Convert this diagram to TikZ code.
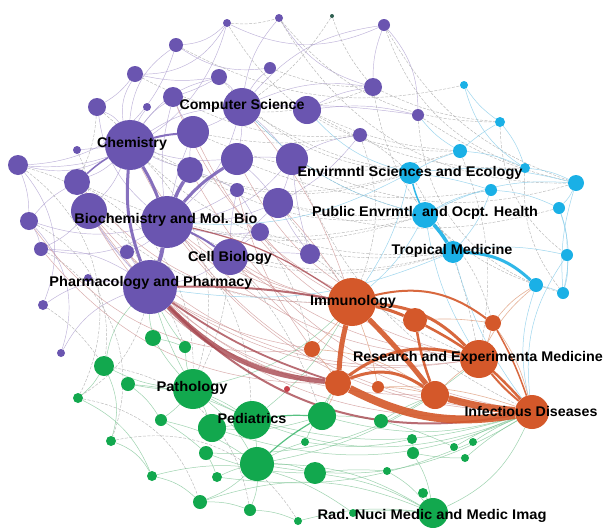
\documentclass[tikz,border=0pt]{standalone}
\usepackage{fontspec}
\usepackage{graphicx}
\setmainfont{Liberation Sans}
\pgfdeclarelayer{edges}
\pgfsetlayers{edges,main}
\definecolor{cpur}{HTML}{6A55B0}
\definecolor{cora}{HTML}{D4582A}
\definecolor{cgrn}{HTML}{12A84E}
\definecolor{ccya}{HTML}{1AB0E6}
\definecolor{cred}{HTML}{C8404A}
\definecolor{cdark}{HTML}{2F5F50}
\definecolor{cbrown}{HTML}{A84850}
\definecolor{cpurE}{HTML}{7A62B8}
\definecolor{lpur}{HTML}{A898CC}
\definecolor{lgray}{HTML}{A0A0A0}
\definecolor{lpink}{HTML}{D09898}
\definecolor{lgrn}{HTML}{7CC494}
\definecolor{lcya}{HTML}{86CCEA}
\definecolor{lora}{HTML}{E0A080}
\newlength\lblw
\newcommand\lblfont{\bfseries\fontsize{14}{16}\selectfont}
\newcommand\fitlbl[2]{\settowidth{\lblw}{\lblfont #2}\pgfmathsetmacro\lblf{#1/\lblw}\scalebox{\lblf}[1]{\lblfont #2}}
\begin{document}
\begin{tikzpicture}[x=1pt,y=-1pt,
  dot/.style={circle,inner sep=0pt,draw=none},
  lbl/.style={inner sep=0pt,text=black},
  ep/.style={draw=lpur,line width=0.45pt,opacity=0.75},
  eg/.style={draw=lgray,line width=0.45pt,opacity=0.75,dash pattern=on 3pt off 1.5pt},
  er/.style={draw=lpink,line width=0.5pt,opacity=0.8},
  egr/.style={draw=lgrn,line width=0.5pt,opacity=0.75},
  ec/.style={draw=lcya,line width=0.5pt,opacity=0.8},
  eo/.style={draw=lora,line width=0.6pt,opacity=0.8},
  tko/.style={draw=cora,opacity=0.9},
  tkb/.style={draw=cbrown,opacity=0.8},
  tkp/.style={draw=cpurE,opacity=0.9},
  tkc/.style={draw=ccya,opacity=0.9}]
\useasboundingbox (0,0) rectangle (606,528);
% purple nodes
\foreach \n/\x/\y/\r in {p1/227/23/4,p2/279/18/4,p3/176/45/7,p4/135/74/8,p5/270/68/6,p6/219/77/8,
  p7/97/107/9,p8/147/107/4,p9/173/97/10,cs/242/107/19,p10/307/110/14,p11/384/25/6,p12/373/87/9,
  p13/418/115/6,p14/360/135/7,chem/130/145/25,p15/193/132/16,p16/77/150/4,p17/18/165/10,
  p18/77/182/13,p19/190/170/13,p20/237/159/16,p21/292/159/16,p22/237/190/7,p23/89/211/18,
  bio/167/222/26,p24/278/203/15,p25/29/221/9,p26/260/232/9,p27/41/249/7,p28/127/252/7,
  cell/230/257/18,p29/310/254/10,pharm/150/287/27,p30/88/278/4,p31/43/305/5,p32/61/353/4}
  \node[dot,fill=cpur,minimum size={2*\r*1pt}] (\n) at (\x,\y) {};
\node[dot,fill=cdark,minimum size=4pt] (t1) at (332,16) {};
% cyan nodes
\foreach \n/\x/\y/\r in {c1/464/85/4,c2/500/122/5,c3/460/151/7,env/410/173/11,c4/525/168/5,
  c5/576/183/8,c6/491/190/6,c7/559/208/6,pub/425/215/13,trop/453/252/11,c8/567/255/6,
  c9/536/285/7,c10/563/293/6}
  \node[dot,fill=ccya,minimum size={2*\r*1pt}] (\n) at (\x,\y) {};
% orange nodes
\foreach \n/\x/\y/\r in {imm/352/302/24,o1/415/320/12,o2/493/323/8,o3/312/349/8,res/479/359/19,
  o4/338/383/13,o5/378/387/6,o6/435/395/14,inf/532/412/17}
  \node[dot,fill=cora,minimum size={2*\r*1pt}] (\n) at (\x,\y) {};
\node[dot,fill=cred,minimum size=6pt] (r1) at (287,389) {};
% green nodes
\foreach \n/\x/\y/\r in {g1/153/338/8,g2/185/347/6,g3/104/366/10,g4/128/384/7,g5/78/398/5,
  path/193/389/20,g6/161/420/6,g7/212/428/14,ped/252/420/19,g8/111/441/5,g9/206/453/7,
  g10/305/442/4,g11/257/464/17,g12/152/476/5,g13/217/477/5,g14/200/502/7,g15/250/510/6,
  g16/298/521/4,g17/322/416/14,g18/381/421/7,g19/412/439/5,g20/413/453/6,g21/454/447/4,
  g22/473/442/4,g23/465/458/4,g24/387/471/4,g25/315/473/11,g26/423/493/5,rad/433/513/15,
  g27/353/513/4}
  \node[dot,fill=cgrn,minimum size={2*\r*1pt}] (\n) at (\x,\y) {};
\begin{pgfonlayer}{edges}
\fill[white] (0,0) rectangle (606,528);
% thin purple edges
\foreach \a/\b/\k in {chem/p4/20,chem/p7/-15,chem/p3/25,chem/p9/10,chem/p16/0,chem/p17/20,
  chem/p18/10,chem/p23/10,chem/cs/15,chem/p6/20,chem/p8/5,bio/p7/20,bio/p23/5,bio/p25/15,
  bio/p27/20,bio/p28/10,bio/cs/-15,bio/p15/5,bio/p21/-20,bio/p24/-10,bio/p26/-10,bio/p22/-5,
  bio/p9/10,cs/p5/10,cs/p6/-10,cs/p10/5,cs/p15/5,cs/p20/5,cs/p21/5,cs/p12/15,cs/p11/20,
  cs/p2/15,p3/p1/-20,p3/p5/-20,p4/p1/-30,p17/p3/-35,p17/p1/-40,p17/p25/10,p25/p27/10,
  p27/pharm/15,p31/pharm/20,p32/pharm/20,p30/pharm/0,pharm/p23/5,pharm/p18/10,pharm/cell/-10,
  pharm/p28/0,cell/p24/5,cell/p26/5,cell/p22/5,p21/p24/5,p21/p14/10,p10/p12/10,p10/p13/10,
  p14/p24/10,p12/p11/10,p2/p12/-20,p1/p11/-25,p11/p13/20,cs/p13/5,p20/p21/5,p19/p15/5,
  p15/p9/5,p7/p4/-10,p18/p25/-10,p23/p27/10,p17/p31/30,p25/p32/30,p4/p6/-10,p9/p6/-5,
  p20/p24/5,p22/p26/5,p29/cell/-5,p29/p24/5,p29/p21/5,p19/p22/5,chem/p19/-5,chem/p20/-10}
  \draw[ep] (\a) to[bend left=\k] (\b);
% thin gray dashed edges
\foreach \a/\b/\k in {p3/c1/-20,p4/p12/-25,p7/env/-30,chem/env/-20,cs/env/-10,cs/pub/-15,
  bio/pub/-15,bio/trop/-20,cell/trop/-15,p10/c3/-10,p12/c2/-10,p13/c5/-10,p14/env/5,
  p11/c4/-25,p1/c3/-30,p2/c2/-25,p18/pub/-20,chem/trop/-25,p23/imm/-20,p24/res/-15,
  p21/inf/-20,p29/imm/10,p17/pharm/25,p17/g5/40,p25/g3/35,p2/c5/-30,p11/c5/-20,t1/p12/-10,
  t1/cs/10,p1/p2/-10,p5/p12/-10,p6/env/-20,p9/p14/-15,p15/c3/-20,p20/c6/-15,p22/pub/-10,
  p26/trop/-10,p24/c7/-15,p21/c5/-20,p10/c4/-15,pub/o2/15,env/res/10,c3/res/15,p14/imm/20,
  c2/c8/-25,c4/c10/-20,p13/c10/-35,p12/c9/-30,pharm/g5/20,p31/g3/10,p27/g8/40,
  p18/path/30,chem/path/30,bio/ped/20,cell/g17/10,p26/o3/10,g5/g14/30,g3/g15/35,g8/g16/35,
  p16/p23/10,p7/p18/10,p28/g2/10,cell/path/10,p19/pub/-18,p15/p14/-10}
  \draw[eg] (\a) to[bend left=\k] (\b);
% thin pink edges
\foreach \a/\b/\k in {bio/imm/-15,bio/res/-20,bio/inf/-25,chem/inf/-30,chem/imm/-25,
  cell/imm/-10,cell/res/-15,cell/inf/-20,p23/inf/-30,p23/o4/-25,p24/imm/5,pharm/res/-20,
  pharm/o6/-20,p26/imm/-10,p28/o4/-20,p18/imm/-25,p25/o3/-30,p19/inf/-25,p20/o1/-20,
  p15/res/-25,p22/o3/-10,pharm/o3/-10,p27/o4/-25,cs/imm/10,p9/o1/-25,p23/res/-28}
  \draw[er] (\a) to[bend left=\k] (\b);
% thin green edges
\foreach \a/\b/\k in {path/ped/5,path/g7/5,path/g1/5,path/g2/5,path/g3/10,path/g4/5,path/g6/5,
  path/g11/10,ped/g11/5,ped/g7/5,g11/g25/10,g11/g15/10,g11/g14/10,g11/g10/5,g11/rad/15,
  g17/g18/5,g17/inf/-15,g11/inf/-20,ped/inf/-15,path/inf/-25,g3/g5/10,g3/g8/20,g8/g12/20,
  g12/g14/15,g14/g15/10,g15/g16/10,g16/rad/10,g27/rad/5,g26/rad/5,g24/rad/10,g19/g20/5,
  g20/rad/10,g21/inf/5,g22/inf/5,g23/inf/5,g18/o6/5,g25/rad/10,g4/ped/10,g1/pharm/5,
  g2/pharm/5,g3/pharm/15,path/pharm/5,g5/g12/20,g6/g9/5,g9/g13/5,g13/g11/5,g6/g11/10,
  rad/inf/-20,g11/o6/-10,ped/imm/-10,path/imm/-15,g17/o4/5,g10/o4/5,g7/g17/-10,g9/g25/-10,
  g14/rad/20,g12/g27/25,g4/g6/10,g1/g2/5,g18/g21/5,g20/g23/-5,g25/g24/5,g10/g19/-10,
  g7/inf/-20,g9/res/-20,g13/g22/-15}
  \draw[egr] (\a) to[bend left=\k] (\b);
% thin cyan edges
\foreach \a/\b/\k in {env/c3/5,env/c6/5,env/c5/10,c3/c2/5,c2/c1/10,c2/c4/10,c4/c5/10,
  c5/c7/10,c7/c8/10,c8/c10/10,c6/c7/10,pub/c6/10,pub/c5/15,trop/c8/10,c9/c10/5,c5/c10/-10,
  c1/c4/-20,trop/inf/-10,pub/res/-10,env/imm/10,c9/inf/-15,c8/inf/-20,pub/cs/15,env/p10/15,
  c3/p13/10,env/bio/15,trop/pharm/15,c6/trop/10,c3/c4/10,pub/imm/10,c7/c10/15}
  \draw[ec] (\a) to[bend left=\k] (\b);
% thin orange edges
\foreach \a/\b/\k in {imm/o3/5,o3/o4/5,imm/o5/5,o5/o6/5,o2/res/5,o2/inf/10,o1/res/5,
  o6/res/5,res/c9/10,o2/c9/10,o4/g17/5,o3/o6/15,o5/inf/10,o1/o2/5}
  \draw[eo] (\a) to[bend left=\k] (\b);
% thick edges
\draw[tkp,line width=3pt] (chem) to[bend left=5] (bio);
\draw[tkp,line width=3pt] (chem) to[bend right=12] (pharm);
\draw[tkp,line width=4pt] (bio) to[bend left=5] (pharm);
\draw[tkp,line width=3.5pt] (bio) to[bend left=5] (p19);
\draw[tkp,line width=3pt] (bio) to[bend left=8] (p20);
\draw[tkp,line width=2pt] (chem) to[bend left=5] (p15);
\draw[tkp,line width=2pt] (bio) to[bend left=5] (cell);
\draw[tkp,line width=1.5pt] (chem) to[bend right=5] (p18);
\draw[tkb,line width=5pt] (pharm) to[bend right=20] (o4);
\draw[tkb,line width=1.8pt] (pharm) to[bend right=8] (o4);
\draw[tkb,line width=2pt] (pharm) to[bend right=28] (inf);
\draw[tkb,line width=2pt] (pharm) to[bend left=5] (imm);
\draw[tkb,line width=1.2pt] (bio) to[bend left=10] (imm);
\draw[tko,line width=5pt] (imm) to[bend right=5] (o4);
\draw[tko,line width=5pt] (imm) to[bend left=3] (o6);
\draw[tko,line width=8pt] (o4) to[bend right=18] (inf);
\draw[tko,line width=7pt] (o6) to[bend right=5] (inf);
\draw[tko,line width=3pt] (o4) to[bend left=28] (o6);
\draw[tko,line width=3pt] (o4) to[bend left=25] (res);
\draw[tko,line width=3pt] (imm) to[bend left=20] (res);
\draw[tko,line width=3pt] (imm) to[bend left=5] (o1);
\draw[tko,line width=2.5pt] (o1) to[bend left=10] (inf);
\draw[tko,line width=2.5pt] (o1) to[bend right=5] (o6);
\draw[tko,line width=2pt] (res) to[bend right=5] (inf);
\draw[tko,line width=2pt] (imm) to[bend left=25] (o2);
\draw[tko,line width=1.5pt] (o2) to[bend left=5] (inf);
\draw[tkc,line width=3.5pt] (pub) to[bend left=5] (trop);
\draw[tkc,line width=3pt] (trop) to[bend left=20] (c9);
\draw[tkc,line width=1.5pt] (env) to[bend right=5] (pub);
\draw[draw=cgrn,line width=1.2pt,opacity=0.7] (ped) to[bend left=5] (g17);
\draw[draw=cgrn,line width=1.2pt,opacity=0.7] (g11) to[bend left=5] (g17);
\end{pgfonlayer}
% labels
\node[lbl] (lcs) at (242,106) {\fitlbl{125}{Computer Science}};
\node[lbl] (lchem) at (132,144) {\fitlbl{70}{Chemistry}};
\node[lbl] (lbio) at (166,220) {\fitlbl{183}{Biochemistry and Mol. Bio}};
\node[lbl] (lcell) at (230,258) {\fitlbl{84}{Cell Biology}};
\node[lbl] (lpharm) at (151,283) {\fitlbl{203}{Pharmacology and Pharmacy}};
\node[lbl] (lenv) at (410,173) {\fitlbl{225}{Envirmntl Sciences and Ecology}};
\node[lbl] (lpub) at (425,213) {\fitlbl{226}{Public Envrmtl. and Ocpt. Health}};
\node[lbl] (ltrop) at (452,251) {\fitlbl{121}{Tropical Medicine}};
\node[lbl] (limm) at (353,302) {\fitlbl{86}{Immunology}};
\node[lbl] (lres) at (478,358) {\fitlbl{250}{Research and Experimenta Medicine}};
\node[lbl] (linf) at (531,411) {\fitlbl{133}{Infectious Diseases}};
\node[lbl] (lpath) at (192,388) {\fitlbl{71}{Pathology}};
\node[lbl] (lped) at (252,418) {\fitlbl{69}{Pediatrics}};
\node[lbl] (lrad) at (432,516) {\fitlbl{229}{Rad. Nuci Medic and Medic Imag}};
\end{tikzpicture}
\end{document}
